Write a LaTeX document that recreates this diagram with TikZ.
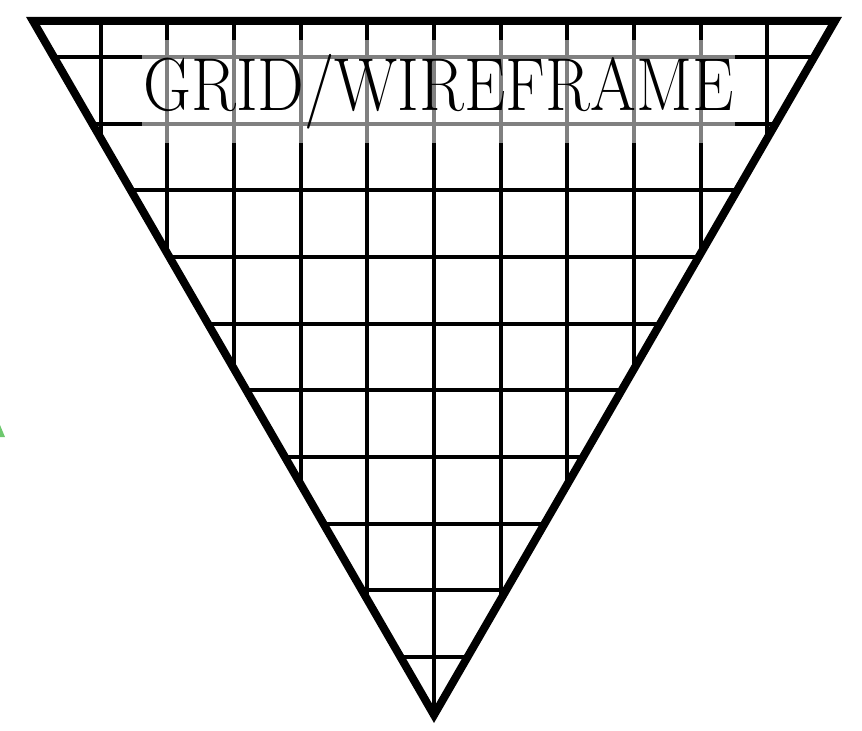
\documentclass[tikz,border=0pt]{standalone}
\usepackage{tikz}
\usetikzlibrary{calc}
\definecolor{MarkGreen}{RGB}{110,200,110}
\tikzset{
  frame/.style={line width=0.24cm, line join=miter},
  gridline/.style={line width=0.12cm},
  title/.style={fill=white, fill opacity=0.5, text opacity=1, inner sep=0pt,
                minimum width=17.79cm, minimum height=3.09cm,
                font=\fontsize{64}{70}\selectfont}
}
\begin{document}
\begin{tikzpicture}[x=0.03cm,y=-0.03cm]
  \useasboundingbox (0,0) rectangle (862,731);
  \coordinate (tl) at (33,21);
  \coordinate (tr) at (835,21);
  \coordinate (bot) at (434,715);
  % grid, cut to the triangle
  \begin{scope}
    \clip (tl) -- (tr) -- (bot) -- cycle;
    \foreach \i in {-6,...,6}{
      \draw[gridline] ({434+66.67*\i},0) -- ++(0,731);
    }
    \foreach \j in {0,...,9}{
      \draw[gridline] (0,{57+66.67*\j}) -- ++(862,0);
    }
  \end{scope}
  \node[title] (label) at (438.5,91.5) {\scalebox{0.88}[1]{GRID/WIREFRAME}};
  \draw[frame] (tl) -- (tr) -- (bot) -- cycle;
  \fill[MarkGreen] (-5,437) -- (0,425) -- (5,437) -- cycle;
\end{tikzpicture}
\end{document}
